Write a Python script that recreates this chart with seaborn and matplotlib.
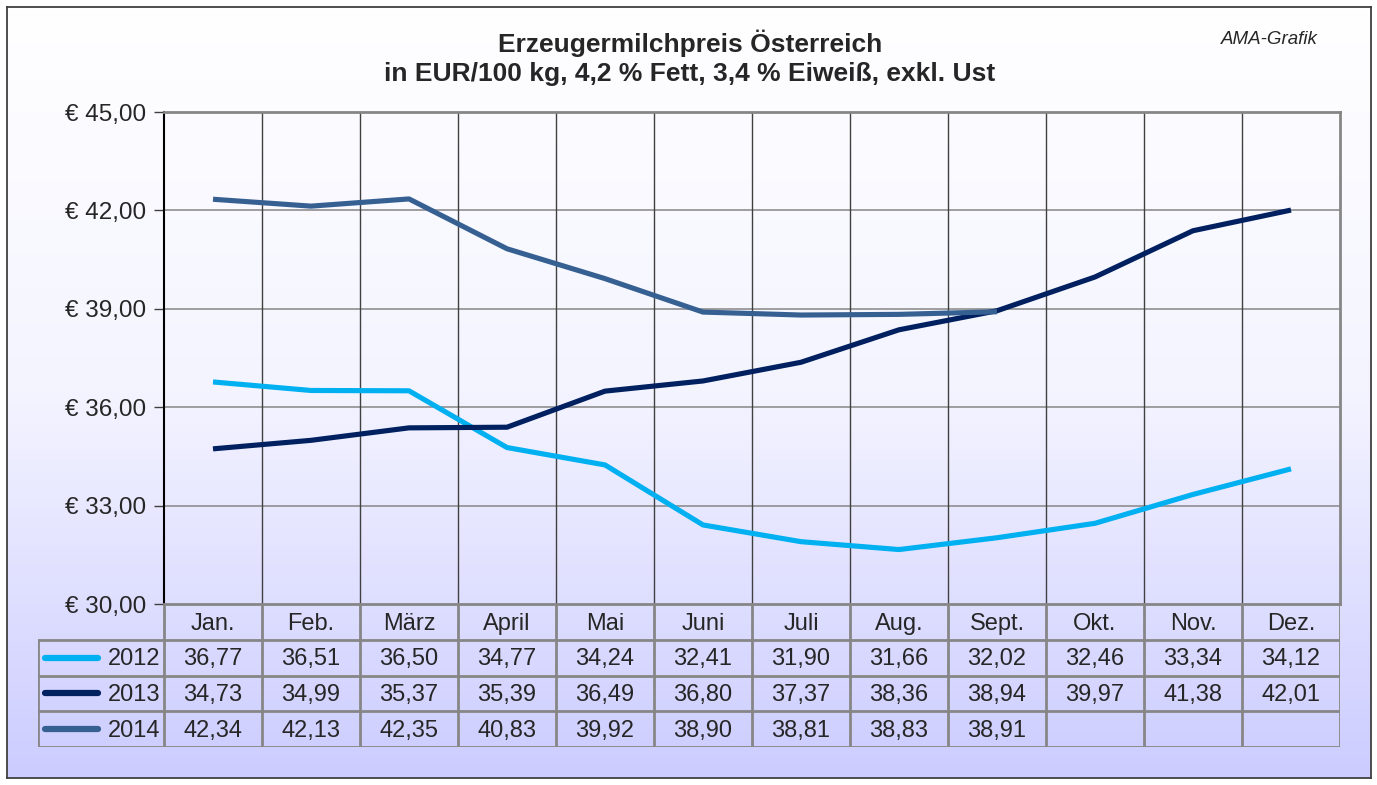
import numpy as np
import pandas as pd
import matplotlib
matplotlib.use("Agg")
import matplotlib.pyplot as plt
import seaborn as sns
from matplotlib.colors import LinearSegmentedColormap

# data
months = ["Jan.", "Feb.", "März", "April", "Mai", "Juni", "Juli", "Aug.", "Sept.", "Okt.", "Nov.", "Dez."]
years = ["2012", "2013", "2014"]
p2012 = [36.77, 36.51, 36.50, 34.77, 34.24, 32.41, 31.90, 31.66, 32.02, 32.46, 33.34, 34.12]
p2013 = [34.73, 34.99, 35.37, 35.39, 36.49, 36.80, 37.37, 38.36, 38.94, 39.97, 41.38, 42.01]
p2014 = [42.34, 42.13, 42.35, 40.83, 39.92, 38.90, 38.81, 38.83, 38.91, None, None, None]
yticks = [30, 33, 36, 39, 42, 45]
colors = {"2012": "#00B0F0", "2013": "#002060", "2014": "#376092"}

sns.set_style("white")
plt.rcParams["font.family"] = ["Liberation Sans", "DejaVu Sans"]

rows = []
for yr, vals in zip(years, [p2012, p2013, p2014]):
    for i, v in enumerate(vals):
        if v is not None:
            rows.append({"year": yr, "month": months[i], "pos": i + 0.5, "price": v})
df = pd.DataFrame(rows)

W, H = 1377, 785
fig = plt.figure(figsize=(W / 100, H / 100), dpi=100)
fig.patch.set_facecolor("white")

# gradient background inside the outer frame
bg = fig.add_axes([7 / W, 7 / H, 1364 / W, 771 / H])
cmap = LinearSegmentedColormap.from_list("bg", ["#FFFFFF", "#F4F4FF", "#CCCCFF"])
bg.imshow(np.linspace(0, 1, 256).reshape(-1, 1), cmap=cmap, aspect="auto", extent=[0, 1, 0, 1])
bg.set_xticks([])
bg.set_yticks([])
for s in bg.spines.values():
    s.set_color("#404040")
    s.set_linewidth(1.3)
bg.set_zorder(-5)

# main chart
ax = fig.add_axes([164 / W, (H - 604) / H, 1176 / W, 492 / H])
ax.patch.set_alpha(0)
sns.lineplot(data=df, x="pos", y="price", hue="year", palette=colors,
             linewidth=3.7, legend=False, ax=ax, solid_capstyle="butt")
ax.set_xlim(0, 12)
ax.set_ylim(30, 45)
ax.set_yticks(yticks)
ax.set_yticklabels(["€ %d,00" % t for t in yticks], fontsize=17.5)
ax.set_xticks([])
ax.set_xlabel("")
ax.set_ylabel("")
for t in yticks[1:-1]:
    ax.axhline(t, color="#868686", lw=1.1, zorder=0)
for i in range(1, 12):
    ax.axvline(i, color="#404040", lw=1.0, zorder=0)
ax.tick_params(axis="y", length=7, width=1, color="#404040", pad=6, left=True)
ax.spines["left"].set_color("#000000")
ax.spines["left"].set_linewidth(1.5)
for side in ["top", "right", "bottom"]:
    ax.spines[side].set_color("#868686")
    ax.spines[side].set_linewidth(2)

# data table below the chart
left = -126 / 98
tax = fig.add_axes([38 / W, (H - 747) / H, 1302 / W, 143 / H])
tax.patch.set_alpha(0)
tax.set_xlim(left, 12)
tax.set_ylim(4, 0)
tax.axis("off")
gc = "#868686"
for r in range(1, 5):
    tax.plot([left, 12], [r, r], color=gc, lw=2, solid_capstyle="projecting")
for c in range(0, 13):
    tax.plot([c, c], [0, 4], color=gc, lw=2)
tax.plot([left, left], [1, 4], color=gc, lw=2)
for i, m in enumerate(months):
    tax.text(i + 0.5, 0.55, m, ha="center", va="center", fontsize=17)
for r, (yr, vals) in enumerate(zip(years, [p2012, p2013, p2014]), start=1):
    tax.plot([left + 0.07, -0.67], [r + 0.5, r + 0.5], color=colors[yr], lw=4.5, solid_capstyle="round")
    tax.text(-0.04, r + 0.55, yr, ha="right", va="center", fontsize=17)
    for i, v in enumerate(vals):
        if v is not None:
            tax.text(i + 0.5, r + 0.55, ("%.2f" % v).replace(".", ","), ha="center", va="center", fontsize=17)

fig.text(690 / W, 1 - 43 / H, "Erzeugermilchpreis Österreich", ha="center", va="center",
         fontsize=19, fontweight="bold")
fig.text(690 / W, 1 - 74 / H, "in EUR/100 kg, 4,2 % Fett, 3,4 % Eiweiß, exkl. Ust", ha="center", va="center",
         fontsize=19, fontweight="bold")
fig.text(1318 / W, 1 - 39 / H, "AMA-Grafik", ha="right", va="center", fontsize=13.5, fontstyle="italic")

fig.savefig("out.png", dpi=100)
